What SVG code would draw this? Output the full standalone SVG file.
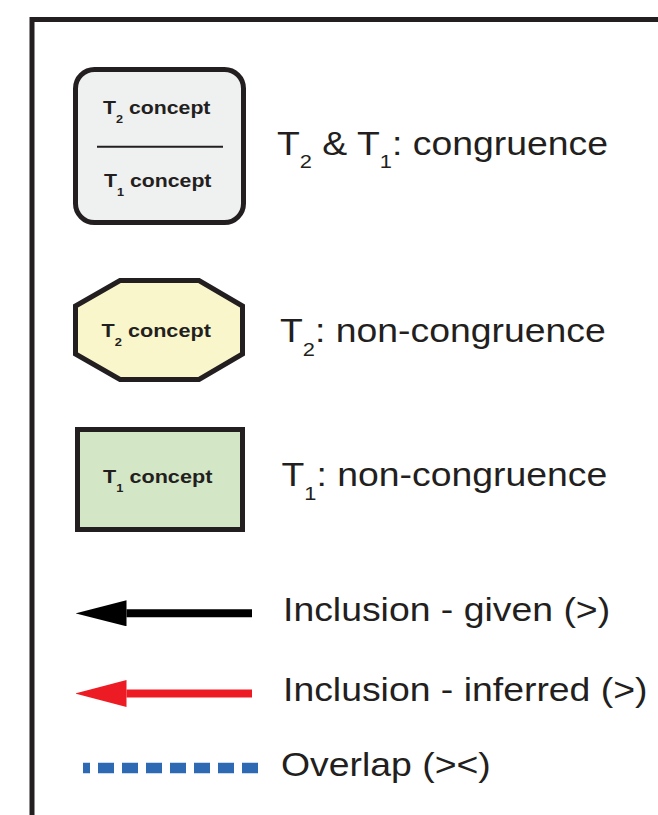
<svg xmlns="http://www.w3.org/2000/svg" width="658" height="815" viewBox="0 0 658 815">
<style>
.frame{fill:none;stroke:#231f20;stroke-width:5}
.node{stroke:#231f20;stroke-width:5}
.nt{font-family:"Liberation Sans",Arial,sans-serif;font-weight:bold;font-size:18.5px;fill:#231f20}
.ns{font-size:11px}
.lbl{font-family:"Liberation Sans",Arial,sans-serif;font-size:32.5px;fill:#231f20}
.ls{font-size:19px}
</style>
<defs>
<marker id="ahb" markerUnits="userSpaceOnUse" viewBox="0 0 51 26" refX="0" refY="13" markerWidth="51" markerHeight="26" orient="auto-start-reverse"><path d="M0,0 L51,13 L0,26 Z" fill="#000"/></marker>
<marker id="ahr" markerUnits="userSpaceOnUse" viewBox="0 0 51 27" refX="0" refY="13.5" markerWidth="51" markerHeight="27" orient="auto-start-reverse"><path d="M0,0 L51,13.5 L0,27 Z" fill="#ed1c24"/></marker>
</defs>
<rect width="658" height="815" fill="#fff"/>
<rect class="frame" x="32" y="19.5" width="700" height="900"/>

<g id="node-congruence">
<rect class="node" x="75.5" y="69.5" width="168" height="153" rx="19" fill="#eff0f0"/>
<line x1="97" y1="146.7" x2="223" y2="146.7" stroke="#231f20" stroke-width="2"/>
<text class="nt" transform="translate(103,114) scale(1.15,1)">T<tspan class="ns" dy="9">2</tspan><tspan dy="-9"> concept</tspan></text>
<text class="nt" transform="translate(104,186.5) scale(1.15,1)">T<tspan class="ns" dy="9">1</tspan><tspan dy="-9"> concept</tspan></text>
</g>

<g id="node-t2">
<polygon class="node" points="120,280.5 199,280.5 242.5,306 242.5,354 199,379.5 120,379.5 75.5,354 75.5,306" fill="#f9f6cb"/>
<text class="nt" transform="translate(101.5,336.7) scale(1.17,1)">T<tspan class="ns" dy="9">2</tspan><tspan dy="-9"> concept</tspan></text>
</g>

<g id="node-t1">
<rect class="node" x="77.5" y="429.5" width="165" height="100" fill="#d3e6c6"/>
<text class="nt" transform="translate(103,483.3) scale(1.17,1)">T<tspan class="ns" dy="9">1</tspan><tspan dy="-9"> concept</tspan></text>
</g>

<g id="connectors">
<line x1="252" y1="613.3" x2="126.5" y2="613.3" stroke="#000" stroke-width="8" marker-end="url(#ahb)"/>
<line x1="252" y1="693.5" x2="126.5" y2="693.5" stroke="#ed1c24" stroke-width="8" marker-end="url(#ahr)"/>
<line x1="83" y1="768" x2="258" y2="768" stroke="#2e69b3" stroke-width="10.5" stroke-dasharray="16 8" stroke-dashoffset="9"/>
</g>

<g id="labels">
<text class="lbl" transform="translate(277,155) scale(1.15,1)">T<tspan class="ls" dy="13">2</tspan><tspan dy="-13"> &amp; T</tspan><tspan class="ls" dy="13">1</tspan><tspan dy="-13">: congruence</tspan></text>
<text class="lbl" transform="translate(280,341.7) scale(1.15,1)">T<tspan class="ls" dy="14">2</tspan><tspan dy="-14">: non-congruence</tspan></text>
<text class="lbl" transform="translate(281.5,486) scale(1.15,1)">T<tspan class="ls" dy="14">1</tspan><tspan dy="-14">: non-congruence</tspan></text>
<text class="lbl" transform="translate(283,621) scale(1.15,1)">Inclusion - given (&gt;)</text>
<text class="lbl" transform="translate(283,701) scale(1.15,1)">Inclusion - inferred (&gt;)</text>
<text class="lbl" transform="translate(281,776) scale(1.15,1)">Overlap (&gt;&lt;)</text>
</g>
</svg>
